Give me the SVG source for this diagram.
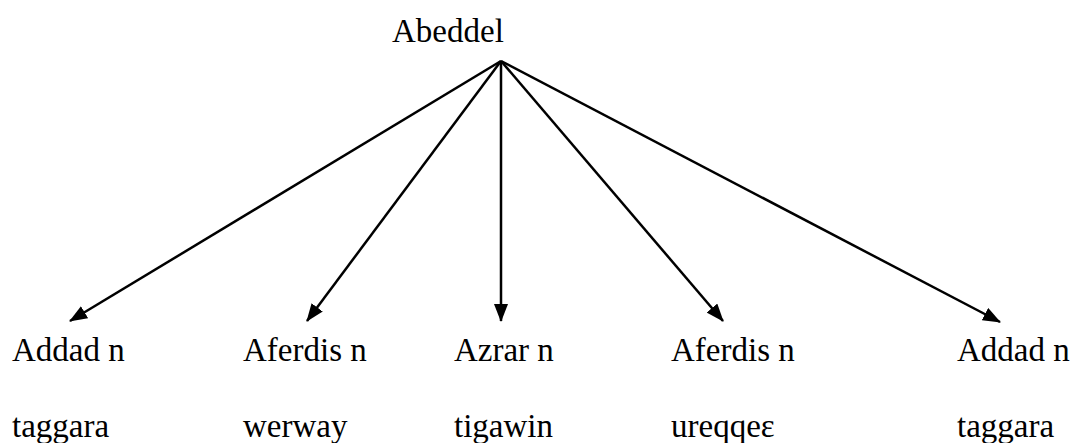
<svg xmlns="http://www.w3.org/2000/svg" width="1076" height="443" viewBox="0 0 1076 443">
<style>
text{font-family:'Liberation Serif','Times New Roman',serif;font-size:33px;fill:#000}
.c line{stroke:#000;stroke-width:2.5}
</style>
<defs>
<marker id="ah" markerWidth="18" markerHeight="14" refX="17" refY="7" orient="auto" markerUnits="userSpaceOnUse">
<path d="M0,0 L18,7 L0,14 Z" fill="#000"/>
</marker>
</defs>
<rect width="1076" height="443" fill="#fff"/>
<g id="root"><text x="392" y="42">Abeddel</text></g>
<g id="n1"><text x="12" y="361">Addad n</text><text x="12" y="437">taggara</text></g>
<g id="n2"><text x="243" y="361">Aferdis n</text><text x="243" y="437">werway</text></g>
<g id="n3"><text x="454" y="361">Azrar n</text><text x="454" y="437">tigawin</text></g>
<g id="n4"><text x="671" y="361">Aferdis n</text><text x="671" y="437">ureqqeɛ</text></g>
<g id="n5"><text x="957" y="361">Addad n</text><text x="957" y="437">taggara</text></g>
<g class="c" id="connectors">
<line x1="501" y1="61" x2="70" y2="321" marker-end="url(#ah)"/>
<line x1="501" y1="61" x2="307" y2="321" marker-end="url(#ah)"/>
<line x1="501" y1="61" x2="501" y2="321" marker-end="url(#ah)"/>
<line x1="501" y1="61" x2="723" y2="321" marker-end="url(#ah)"/>
<line x1="501" y1="61" x2="1000" y2="322" marker-end="url(#ah)"/>
</g>
</svg>
